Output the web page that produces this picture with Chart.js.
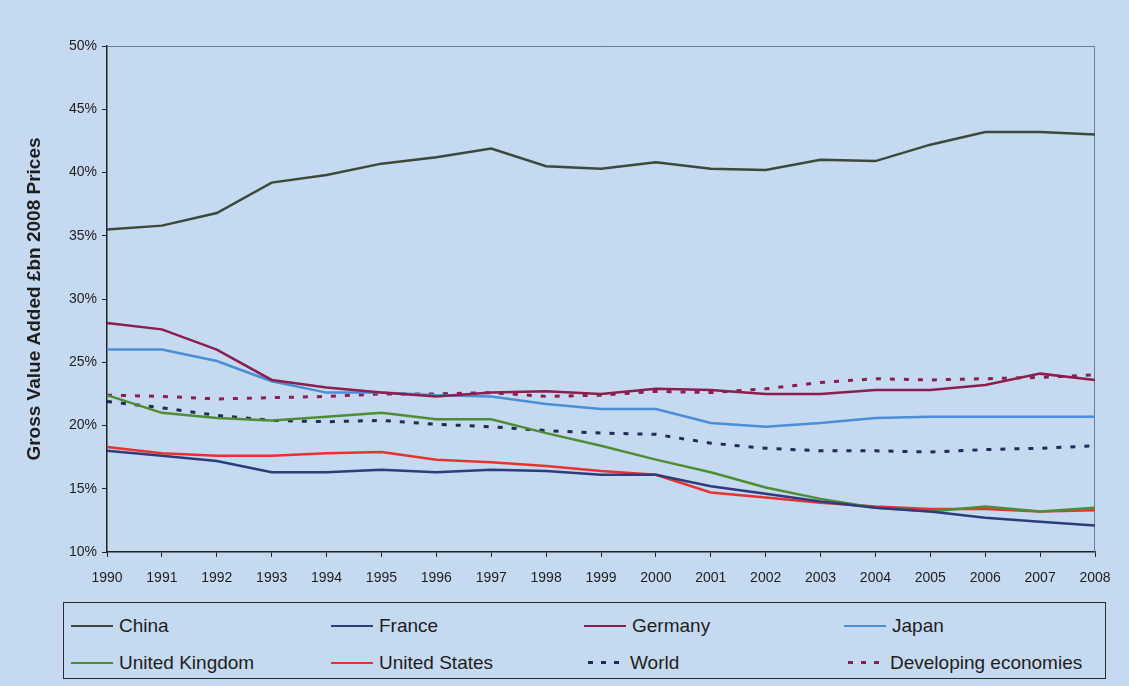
<!DOCTYPE html>
<html>
<head>
<meta charset="utf-8">
<script src="https://cdn.jsdelivr.net/npm/chart.js@4/dist/chart.umd.min.js"></script>
<style>
  body { margin: 0; background: #c5d9f0; width: 1129px; height: 686px; overflow: hidden; font-family: Arial, "Liberation Sans", sans-serif; }
  #chartBox { position: absolute; left: 0; top: 0; width: 1129px; height: 600px; }
  #legend { position: absolute; left: 63px; top: 602px; width: 1043px; height: 77px; border: 1.5px solid #2b2b2b;
    display: grid; grid-template-columns: 260px 253px 260px auto; grid-template-rows: 37px 37px; padding: 4px 0 0 7px; box-sizing: border-box;
    font-family: Arial, "Liberation Sans", sans-serif; font-size: 19px; color: #1e1e1e; }
  .item { display: flex; align-items: center; }
  .sample { width: 42px; margin-right: 6px; }
</style>
</head>
<body>
<div id="chartBox"><canvas id="chart" width="1129" height="600"></canvas></div>
<div id="legend"></div>
<script>
const years = ["1990","1991","1992","1993","1994","1995","1996","1997","1998","1999","2000","2001","2002","2003","2004","2005","2006","2007","2008"];
const china = [35.5, 35.8, 36.8, 39.2, 39.8, 40.7, 41.2, 41.9, 40.5, 40.3, 40.8, 40.3, 40.2, 41.0, 40.9, 42.2, 43.2, 43.2, 43.0];
const france = [18.0, 17.6, 17.2, 16.3, 16.3, 16.5, 16.3, 16.5, 16.4, 16.1, 16.1, 15.2, 14.6, 14.0, 13.5, 13.2, 12.7, 12.4, 12.1];
const germany = [28.1, 27.6, 26.0, 23.6, 23.0, 22.6, 22.3, 22.6, 22.7, 22.5, 22.9, 22.8, 22.5, 22.5, 22.8, 22.8, 23.2, 24.1, 23.6];
const japan = [26.0, 26.0, 25.1, 23.5, 22.6, 22.6, 22.4, 22.3, 21.7, 21.3, 21.3, 20.2, 19.9, 20.2, 20.6, 20.7, 20.7, 20.7, 20.7];
const uk = [22.4, 21.0, 20.6, 20.4, 20.7, 21.0, 20.5, 20.5, 19.4, 18.4, 17.3, 16.3, 15.1, 14.2, 13.5, 13.2, 13.6, 13.2, 13.5];
const us = [18.3, 17.8, 17.6, 17.6, 17.8, 17.9, 17.3, 17.1, 16.8, 16.4, 16.1, 14.7, 14.3, 13.9, 13.6, 13.4, 13.4, 13.2, 13.3];
const world = [21.9, 21.4, 20.8, 20.4, 20.3, 20.4, 20.1, 19.9, 19.6, 19.4, 19.3, 18.6, 18.2, 18.0, 18.0, 17.9, 18.1, 18.2, 18.4];
const developing = [22.4, 22.3, 22.1, 22.2, 22.3, 22.5, 22.5, 22.6, 22.3, 22.4, 22.7, 22.6, 22.9, 23.4, 23.7, 23.6, 23.7, 23.8, 24.0];
const yTicks = [10, 15, 20, 25, 30, 35, 40, 45, 50];

const series = [
  { label: "China", data: china, color: "#3a4a3b", dashed: false },
  { label: "France", data: france, color: "#2f3b7a", dashed: false },
  { label: "Germany", data: germany, color: "#8a1f4e", dashed: false },
  { label: "Japan", data: japan, color: "#4a8ed6", dashed: false },
  { label: "United Kingdom", data: uk, color: "#4e8e33", dashed: false },
  { label: "United States", data: us, color: "#e6332f", dashed: false },
  { label: "World", data: world, color: "#1f2c55", dashed: true },
  { label: "Developing economies", data: developing, color: "#8a1f4e", dashed: true }
];

// grey top and right edges of the plot area
const frame = {
  id: "frame",
  beforeDatasetsDraw(chart) {
    const { ctx, chartArea: a } = chart;
    ctx.save();
    ctx.strokeStyle = "#6d7d92";
    ctx.lineWidth = 1;
    ctx.beginPath();
    ctx.moveTo(a.left, a.top + 0.5);
    ctx.lineTo(a.right - 0.5, a.top + 0.5);
    ctx.lineTo(a.right - 0.5, a.bottom);
    ctx.stroke();
    ctx.restore();
  }
};

const tickFont = { family: "Arial, 'Liberation Sans', sans-serif", size: 14 };

new Chart(document.getElementById("chart"), {
  type: "line",
  data: {
    labels: years,
    datasets: series.map(s => ({
      label: s.label, data: s.data, borderColor: s.color, backgroundColor: s.color,
      borderWidth: s.dashed ? 3 : 2.5, borderDash: s.dashed ? [5, 9] : [], pointRadius: 0, tension: 0
    }))
  },
  options: {
    responsive: false, animation: false, devicePixelRatio: 1,
    layout: { padding: { left: 0, top: 46, right: 34, bottom: 0 } },
    plugins: { legend: { display: false }, tooltip: { enabled: false } },
    scales: {
      x: {
        offset: false,
        grid: { offset: false, drawOnChartArea: false, drawTicks: true, tickLength: 5, color: "#222" },
        border: { display: true, color: "#222", width: 1.5 },
        ticks: { autoSkip: false, maxRotation: 0, color: "#1e1e1e", font: tickFont, padding: 13 },
        afterFit(s) { s.height = 48; }
      },
      y: {
        min: 10, max: 50,
        afterBuildTicks(s) { s.ticks = yTicks.map(v => ({ value: v })); },
        grid: { drawOnChartArea: false, drawTicks: true, tickLength: 5, color: "#222" },
        border: { display: true, color: "#222", width: 1.5 },
        ticks: { color: "#1e1e1e", font: tickFont, padding: 5, callback: v => v + "%" },
        title: { display: true, text: "Gross Value Added \u00A3bn 2008 Prices", color: "#1e1e1e",
          font: { family: "Arial, 'Liberation Sans', sans-serif", size: 19, weight: "bold" }, padding: { top: 23, bottom: 0 } },
        afterFit(s) { s.width = 107; }
      }
    }
  },
  plugins: [frame]
});

const legend = document.getElementById("legend");
for (const s of series) {
  const item = document.createElement("div");
  item.className = "item";
  const sample = document.createElement("div");
  sample.className = "sample";
  if (s.dashed) {
    sample.style.height = "3px";
    sample.style.width = "36px";
    sample.style.marginLeft = "4px";
    sample.style.background = "repeating-linear-gradient(to right, " + s.color + " 0 5px, transparent 5px 13px)";
  } else {
    sample.style.borderTop = "2.5px solid " + s.color;
  }
  const text = document.createElement("span");
  text.textContent = s.label;
  item.appendChild(sample);
  item.appendChild(text);
  legend.appendChild(item);
}
</script>
</body>
</html>
